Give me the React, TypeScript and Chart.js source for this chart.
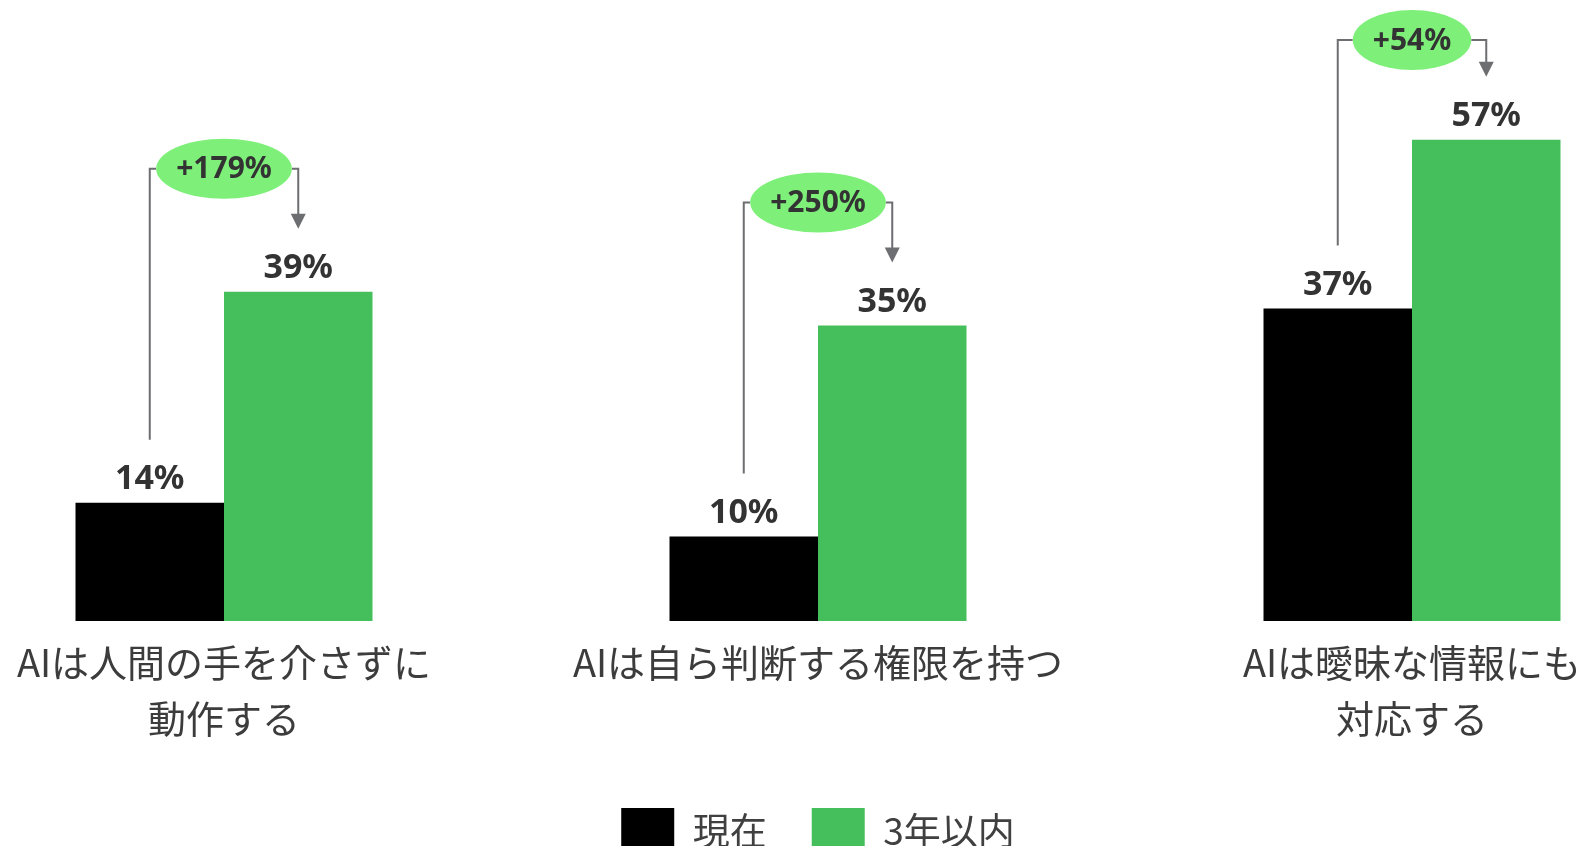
import React, { useEffect, useRef } from 'react';
import { Chart, registerables } from 'chart.js';

Chart.register(...registerables);

const categories: (string | string[])[] = [
  ['AIは人間の手を介さずに', '動作する'],
  'AIは自ら判断する権限を持つ',
  ['AIは曖昧な情報にも', '対応する'],
];
const seriesNames = ['現在', '3年以内'];
const currentValues = [14, 10, 37];
const futureValues = [39, 35, 57];
const changeLabels = ['+179%', '+250%', '+54%'];

const BLACK = '#000000';
const GREEN = '#45bf5b';
const BUBBLE = '#7ef07a';
const LINE = '#6d6e71';
const TEXT = '#333333';

const annotationPlugin = {
  id: 'annotations',
  afterDatasetsDraw(chart: any) {
    const ctx = chart.ctx as CanvasRenderingContext2D;
    const m0 = chart.getDatasetMeta(0).data;
    const m1 = chart.getDatasetMeta(1).data;
    ctx.save();
    for (let i = 0; i < m0.length; i++) {
      const b = m0[i];
      const g = m1[i];
      ctx.font = 'bold 34px "Noto Sans"';
      ctx.fillStyle = TEXT;
      ctx.textAlign = 'center';
      ctx.textBaseline = 'alphabetic';
      ctx.fillText(currentValues[i] + '%', b.x, b.y - 14);
      ctx.fillText(futureValues[i] + '%', g.x, g.y - 14);

      const hy = Math.max(g.y - 123, 40);
      const cx = (b.x + g.x) / 2;
      ctx.font = 'bold 30px "Noto Sans"';
      const tw = ctx.measureText(changeLabels[i]).width;
      const rx = tw / 2 + 20;
      const ry = 30;

      ctx.strokeStyle = LINE;
      ctx.lineWidth = 2;
      ctx.beginPath();
      ctx.moveTo(b.x, b.y - 63);
      ctx.lineTo(b.x, hy);
      ctx.lineTo(cx - rx, hy);
      ctx.moveTo(cx + rx, hy);
      ctx.lineTo(g.x, hy);
      ctx.lineTo(g.x, g.y - 76);
      ctx.stroke();

      ctx.fillStyle = LINE;
      ctx.beginPath();
      ctx.moveTo(g.x - 7.5, g.y - 78);
      ctx.lineTo(g.x + 7.5, g.y - 78);
      ctx.lineTo(g.x, g.y - 63);
      ctx.closePath();
      ctx.fill();

      ctx.fillStyle = BUBBLE;
      ctx.beginPath();
      ctx.ellipse(cx, hy, rx, ry, 0, 0, Math.PI * 2);
      ctx.fill();

      ctx.fillStyle = TEXT;
      ctx.textBaseline = 'middle';
      ctx.fillText(changeLabels[i], cx, hy + 1);
    }
    ctx.restore();
  },
};

export default function App() {
  const ref = useRef<HTMLCanvasElement>(null);
  useEffect(() => {
    if (!ref.current) return;
    const chart = new Chart(ref.current, {
      type: 'bar',
      data: {
        labels: categories,
        datasets: [
          {
            label: seriesNames[0],
            data: currentValues,
            backgroundColor: BLACK,
            borderWidth: 0,
            categoryPercentage: 0.5,
            barPercentage: 1,
            clip: false,
          },
          {
            label: seriesNames[1],
            data: futureValues,
            backgroundColor: GREEN,
            borderWidth: 0,
            categoryPercentage: 0.5,
            barPercentage: 1,
            clip: false,
          },
        ],
      },
      options: {
        responsive: false,
        animation: false,
        layout: { padding: { left: 224, right: 177, top: 30, bottom: 7 } },
        scales: {
          x: {
            offset: false,
            grid: { display: false, drawTicks: false, tickLength: 0 },
            border: { display: false },
            ticks: {
              color: '#3c3c3c',
              padding: 14,
              maxRotation: 0,
              autoSkip: false,
              font: { family: '"Noto Sans CJK JP"', size: 38, lineHeight: 1.47 },
            },
            afterFit: (scale: any) => {
              scale.height = 142;
              scale.paddingLeft = 0;
              scale.paddingRight = 0;
            },
          },
          y: {
            display: false,
            min: 0,
            max: 70,
          },
        },
        plugins: {
          legend: {
            position: 'bottom',
            labels: {
              boxWidth: 53,
              boxHeight: 45,
              padding: 45,
              color: '#404040',
              font: { family: '"Noto Sans CJK JP"', size: 37 },
            },
          },
          tooltip: { enabled: false },
        },
      },
      plugins: [annotationPlugin],
    });
    return () => chart.destroy();
  }, []);

  return (
    <div style={{ position: 'fixed', left: 0, top: 0, width: 1589, height: 846, overflow: 'hidden', background: '#fff' }}>
      <canvas ref={ref} width={1589} height={870} />
    </div>
  );
}
